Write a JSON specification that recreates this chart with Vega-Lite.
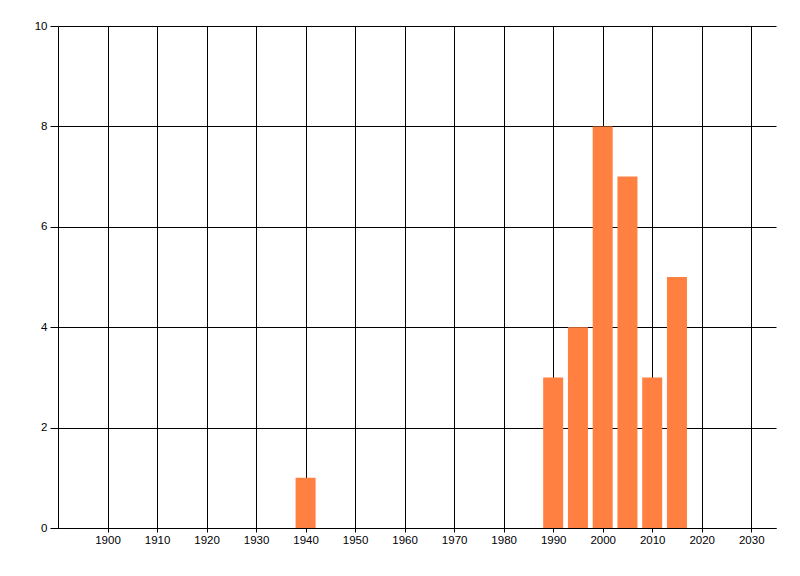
{
  "$schema": "https://vega.github.io/schema/vega-lite/v6.json",
  "description": "Count by year",
  "autosize": "none",
  "width": 718,
  "height": 502,
  "padding": {"left": 58, "top": 26, "right": 24, "bottom": 48},
  "background": "white",
  "config": {
    "view": {"stroke": null},
    "axis": {
      "labelFont": "Liberation Sans",
      "labelFontSize": 11.5,
      "labelColor": "black",
      "domainColor": "black",
      "tickColor": "black",
      "gridColor": "black",
      "gridOpacity": 1,
      "gridWidth": 1,
      "domainWidth": 1,
      "tickWidth": 1,
      "title": null
    }
  },
  "data": {
    "values": [
      {"year": 1940, "count": 1},
      {"year": 1990, "count": 3},
      {"year": 1995, "count": 4},
      {"year": 2000, "count": 8},
      {"year": 2005, "count": 7},
      {"year": 2010, "count": 3},
      {"year": 2015, "count": 5}
    ]
  },
  "mark": {"type": "bar", "size": 20, "color": "#FF8040"},
  "encoding": {
    "x": {
      "field": "year",
      "type": "quantitative",
      "scale": {"domain": [1890, 2035], "nice": false, "zero": false, "padding": 0},
      "axis": {
        "values": [1900, 1910, 1920, 1930, 1940, 1950, 1960, 1970, 1980, 1990, 2000, 2010, 2020, 2030],
        "format": "d",
        "tickSize": 4,
        "labelPadding": 2,
        "labelFlush": false
      }
    },
    "y": {
      "field": "count",
      "type": "quantitative",
      "scale": {"domain": [0, 10], "nice": false},
      "axis": {
        "values": [0, 2, 4, 6, 8, 10],
        "tickSize": 8,
        "labelPadding": 3,
        "labelFlush": false
      }
    }
  }
}
